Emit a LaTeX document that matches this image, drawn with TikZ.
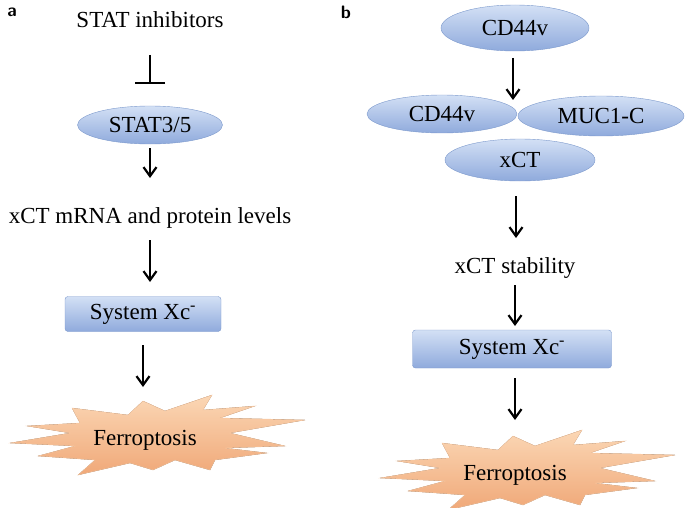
\documentclass[tikz,border=0pt]{standalone}
\usepackage{fontspec}
\setmainfont{Liberation Serif}
\usetikzlibrary{shapes.geometric,arrows.meta}
\definecolor{elltop}{HTML}{D3E0F5}
\definecolor{ellbot}{HTML}{8FAADC}
\definecolor{ellline}{HTML}{7C99CC}
\definecolor{startop}{HTML}{FBD7B5}
\definecolor{starbot}{HTML}{F0A878}
\tikzset{
  txt/.style={font=\fontsize{23}{26}\selectfont},
  oval/.style={ellipse, draw=ellline, top color=elltop, bottom color=ellbot, txt, inner sep=0pt},
  box/.style={rectangle, rounded corners=3pt, draw=ellline, top color=elltop, bottom color=ellbot, txt, inner sep=0pt},
  arr/.style={-{Straight Barb[length=9pt,width=13pt,line width=2.2pt]}, line width=2.4pt},
  inh/.style={-{Bar[width=30pt,line width=2.2pt]}, line width=2.4pt},
  lab/.style={font=\bfseries\fontsize{18}{20}\selectfont\sffamily}
}
\newcommand{\burst}[1]{%
  \fill[draw=startop!70!starbot, top color=startop, bottom color=starbot, shift={(#1)}]
   (-73,-30)--(-17,-23)--(-2,-37)--(20,-27)--(67,-43)--(58,-28)--(110,-32)--(75,-20)
   --(160,-18)--(85,-5)--(140,8)--(80,10)--(122,15)--(70,22)--(65,32)--(30,22)
   --(8,32)--(-15,25)--(-67,37)--(-50,22)--(-107,18)--(-70,8)--(-135,5)--(-75,-5)
   --(-118,-12)--(-65,-15)--cycle;}
\begin{document}
\begin{tikzpicture}[x=1pt,y=-1pt]
\useasboundingbox (0,0) rectangle (685,508);
% panel a
\node[lab] (la) at (12,12) {a};
\node[txt] (inhib) at (150,20) {STAT inhibitors};
\node[oval, minimum width=145pt, minimum height=38pt] (stat) at (150,125) {STAT3/5};
\node[txt] (mrna) at (150,218) {xCT mRNA and protein levels};
\node[box, minimum width=156pt, minimum height=35pt] (sysa) at (143,314) {System Xc\textsuperscript{-}};
\burst{145,438}
\node[txt] (ferra) at (145,440) {Ferroptosis};
\coordinate (a1) at (150,55); \coordinate (a2) at (150,84);
\coordinate (a3) at (150,148); \coordinate (a4) at (150,178);
\coordinate (a5) at (150,240); \coordinate (a6) at (150,282);
\coordinate (a7) at (143,345); \coordinate (a8) at (143,387);
\draw[inh] (a1) -- (a2);
\draw[arr] (a3) -- (a4);
\draw[arr] (a5) -- (a6);
\draw[arr] (a7) -- (a8);
% panel b
\node[lab] (lb) at (346,12) {b};
\node[oval, minimum width=148pt, minimum height=46pt] (cd) at (515,28) {CD44v};
\node[oval, minimum width=150pt, minimum height=38pt] (cd2) at (442,114) {CD44v};
\node[oval, minimum width=166pt, minimum height=40pt] (muc) at (601,116) {MUC1-C};
\node[oval, minimum width=150pt, minimum height=42pt] (xct) at (520,160) {xCT};
\node[txt] (stab) at (515,268) {xCT stability};
\node[box, minimum width=199pt, minimum height=38pt] (sysb) at (512,349) {System Xc\textsuperscript{-}};
\burst{515,473}
\node[txt] (ferrb) at (515,475) {Ferroptosis};
\coordinate (b1) at (513,58); \coordinate (b2) at (513,100);
\coordinate (b3) at (516,196); \coordinate (b4) at (516,238);
\coordinate (b5) at (515,285); \coordinate (b6) at (515,326);
\coordinate (b7) at (515,378); \coordinate (b8) at (515,420);
\draw[arr] (b1) -- (b2);
\draw[arr] (b3) -- (b4);
\draw[arr] (b5) -- (b6);
\draw[arr] (b7) -- (b8);
\end{tikzpicture}
\end{document}
